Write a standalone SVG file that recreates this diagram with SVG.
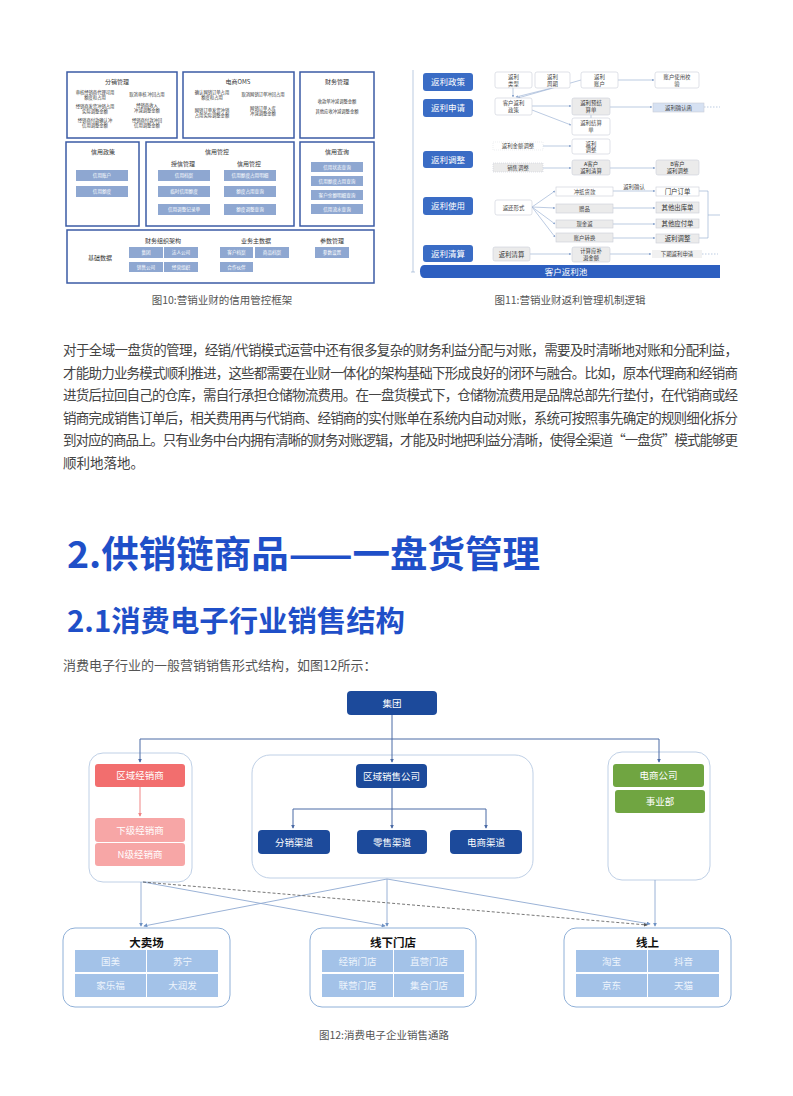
<svg xmlns="http://www.w3.org/2000/svg" width="793" height="1096" viewBox="0 0 793 1096">
<defs>
<style>
text{font-family:"Noto Sans CJK SC","Noto Sans",sans-serif}
.box10{fill:#fff;stroke:#3b5ba5;stroke-width:1.5}
.btn10{fill:#8ea7d1}
.bt{fill:#fff;font-size:4.6px;text-anchor:middle}
.tt10{font-size:6px;fill:#333;text-anchor:middle}
.it10{font-size:4.3px;fill:#333;text-anchor:middle}
.pill{fill:#3a6cc5}
.pt{fill:#fff;font-size:8.5px;text-anchor:middle}
.wb{fill:#fff;stroke:#c9ced8;stroke-width:0.6}
.gb{fill:#ebebeb;stroke:#c9ced8;stroke-width:0.6}
.lb{fill:#d6e1f2;stroke:#c9ced8;stroke-width:0.6}
.st{font-size:5.4px;fill:#444;text-anchor:middle}
.sb{font-size:6.4px;fill:#333;text-anchor:middle}
.s2{font-size:5.4px;fill:#333;text-anchor:middle}
.c11{stroke:#8fa8cf;stroke-width:0.6;fill:none}
.cap{font-size:10.5px;fill:#555;text-anchor:middle}
.para{font-size:13.5px;fill:#444}
.cont{fill:#fff;stroke:#bfd0e6;stroke-width:1}
.dk{fill:#1c4a9b}
.wt{fill:#fff;font-size:9.5px;text-anchor:middle}
.cell{fill:#a3c2e8}
.ct{fill:#eef4fc;font-size:9.5px;text-anchor:middle}
.bx{fill:#fff;stroke:#8fb0d8;stroke-width:1}
.bh{font-size:11.5px;font-weight:bold;fill:#111;text-anchor:middle}
.ctop{stroke:#4a6aa5;stroke-width:1;fill:none}
.cbot{stroke:#8ea9d1;stroke-width:0.9;fill:none}
</style>
<marker id="a11" viewBox="0 0 6 6" refX="5" refY="3" markerWidth="4" markerHeight="4" orient="auto"><path d="M0,0 L6,3 L0,6 z" fill="#8fa8cf"/></marker>
<marker id="atop" viewBox="0 0 6 6" refX="5" refY="3" markerWidth="4" markerHeight="4" orient="auto"><path d="M0,0 L6,3 L0,6 z" fill="#4a6aa5"/></marker>
<marker id="apink" viewBox="0 0 6 6" refX="5" refY="3" markerWidth="4" markerHeight="4" orient="auto"><path d="M0,0 L6,3 L0,6 z" fill="#f08585"/></marker>
<marker id="abot" viewBox="0 0 6 6" refX="5" refY="3" markerWidth="4.5" markerHeight="4.5" orient="auto"><path d="M0,0 L6,3 L0,6 z" fill="#6f92c4"/></marker>
<marker id="adash" viewBox="0 0 6 6" refX="5" refY="3" markerWidth="4.5" markerHeight="4.5" orient="auto"><path d="M0,0 L6,3 L0,6 z" fill="#555"/></marker>
</defs>
<rect width="793" height="1096" fill="#fff"/>

<!-- ===== Figure 10 ===== -->
<g id="fig10">
<g id="f10-fenxiao">
<rect class="box10" x="67" y="72" width="110" height="66"/>
<text class="tt10" x="117" y="84">分销管理</text>
<text class="it10" x="95" y="94">审核经销商代理可用</text><text class="it10" x="95" y="99">额度和占用</text>
<text class="it10" x="95" y="108">经销商发货冲销占用</text><text class="it10" x="95" y="113">实际调整金额</text>
<text class="it10" x="95" y="122">经销商付款确认冲</text><text class="it10" x="95" y="127">信用调整金额</text>
<text class="it10" x="147" y="96">取消审核 冲回占用</text>
<text class="it10" x="147" y="107">经销商收入</text><text class="it10" x="147" y="112">冲减调整金额</text>
<text class="it10" x="147" y="122">经销商付款冲回</text><text class="it10" x="147" y="127">信用调整金额</text>
</g>
<g id="f10-oms">
<rect class="box10" x="183" y="72" width="111" height="66"/>
<text class="tt10" x="238" y="84">电商OMS</text>
<text class="it10" x="212" y="94">确认网销订单占用</text><text class="it10" x="212" y="99">额度和占用</text>
<text class="it10" x="212" y="112">网销订单发货冲销</text><text class="it10" x="212" y="117">占用实际调整金额</text>
<text class="it10" x="263" y="96">取消网销订单冲回占用</text>
<text class="it10" x="263" y="110">网销订单入库</text><text class="it10" x="263" y="115">冲减调整金额</text>
</g>
<g id="f10-caiwu">
<rect class="box10" x="300" y="72" width="74" height="66"/>
<text class="tt10" x="337" y="84">财务管理</text>
<text class="it10" x="337" y="103">收款单冲减调整金额</text>
<text class="it10" x="337" y="113">其他应收冲减调整金额</text>
</g>
<g id="f10-zhengce">
<rect class="box10" x="66" y="142" width="73" height="84"/>
<text class="tt10" x="103" y="154">信用政策</text>
<rect class="btn10" x="76" y="170" width="52" height="11"/><text class="bt" x="102" y="177.3">信用账户</text>
<rect class="btn10" x="76" y="186" width="52" height="11"/><text class="bt" x="102" y="193.3">信用额度</text>
</g>
<g id="f10-guankong">
<rect class="box10" x="146" y="142" width="148" height="84"/>
<text class="tt10" x="217" y="154">信用管控</text>
<text class="tt10" x="183" y="166">授信管理</text>
<text class="tt10" x="249" y="166">信用管控</text>
<rect class="btn10" x="158" y="170" width="52" height="11"/><text class="bt" x="184" y="177.3">信用档案</text>
<rect class="btn10" x="158" y="186" width="52" height="11"/><text class="bt" x="184" y="193.3">临时信用额度</text>
<rect class="btn10" x="158" y="204" width="52" height="11"/><text class="bt" x="184" y="211.3">信用调整记录单</text>
<rect class="btn10" x="224" y="170" width="52" height="11"/><text class="bt" x="250" y="177.3">信用额度占用明细</text>
<rect class="btn10" x="224" y="186" width="52" height="11"/><text class="bt" x="250" y="193.3">额度占用查询</text>
<rect class="btn10" x="224" y="204" width="52" height="11"/><text class="bt" x="250" y="211.3">额度调整查询</text>
</g>
<g id="f10-chaxun">
<rect class="box10" x="300" y="142" width="74" height="84"/>
<text class="tt10" x="337" y="154">信用查询</text>
<rect class="btn10" x="311" y="162" width="52" height="10"/><text class="bt" x="337" y="168.8">信用状态查询</text>
<rect class="btn10" x="311" y="176" width="52" height="10"/><text class="bt" x="337" y="182.8">信用额度占用查询</text>
<rect class="btn10" x="311" y="190" width="52" height="10"/><text class="bt" x="337" y="196.8">客户余额明细查询</text>
<rect class="btn10" x="311" y="204" width="52" height="10"/><text class="bt" x="337" y="210.8">信用流水查询</text>
</g>
<g id="f10-jichu">
<rect class="box10" x="67" y="230" width="307" height="53"/>
<text class="tt10" x="100" y="260">基础数据</text>
<text class="tt10" x="163" y="243">财务组织架构</text>
<rect class="btn10" x="129" y="247" width="34" height="11"/><text class="bt" x="146" y="254.3">集团</text>
<rect class="btn10" x="164" y="247" width="34" height="11"/><text class="bt" x="181" y="254.3">法人公司</text>
<rect class="btn10" x="129" y="262" width="34" height="10"/><text class="bt" x="146" y="268.8">销售公司</text>
<rect class="btn10" x="164" y="262" width="34" height="10"/><text class="bt" x="181" y="268.8">经营组织</text>
<text class="tt10" x="256" y="243">业务主数据</text>
<rect class="btn10" x="220" y="247" width="33" height="11"/><text class="bt" x="236.5" y="254.3">客户档案</text>
<rect class="btn10" x="255" y="247" width="34" height="11"/><text class="bt" x="272" y="254.3">商品档案</text>
<rect class="btn10" x="220" y="262" width="33" height="10"/><text class="bt" x="236.5" y="268.8">合作伙伴</text>
<text class="tt10" x="332" y="243">参数管理</text>
<rect class="btn10" x="315" y="247" width="34" height="11"/><text class="bt" x="332" y="254.3">参数设置</text>
</g>
</g>
<text class="cap" x="222" y="304">图10:营销业财的信用管控框架</text>

<!-- ===== Figure 11 ===== -->
<g id="fig11">
<g id="f11-connectors">
<path class="c11" d="M413,70 V272"/>
<path class="c11" d="M411,272 H415"/>
<path class="c11" d="M513,88 V97" marker-end="url(#a11)"/>
<path class="c11" d="M552,88 L516,97" marker-end="url(#a11)"/>
<path class="c11" d="M581,80 L518,98" marker-end="url(#a11)"/>
<path class="c11" d="M618,80 H654" marker-end="url(#a11)"/>
<path class="c11" d="M532,106 H571" marker-end="url(#a11)"/>
<path class="c11" d="M532,110 L571,125" marker-end="url(#a11)"/>
<path class="c11" d="M610,107 H652" marker-end="url(#a11)"/>
<path class="c11" d="M704,107 H720" stroke-dasharray="1.5,1.5"/>
<path class="c11" d="M591,115 V118"/>
<path class="c11" d="M543,146 H571" marker-end="url(#a11)"/>
<path class="c11" d="M543,168 H571" marker-end="url(#a11)"/>
<path class="c11" d="M610,168 H655" marker-end="url(#a11)"/>
<path class="c11" d="M532,207 L555,191" marker-end="url(#a11)"/>
<path class="c11" d="M532,207 L555,208" marker-end="url(#a11)"/>
<path class="c11" d="M532,207 L555,224" marker-end="url(#a11)"/>
<path class="c11" d="M532,207 L555,237" marker-end="url(#a11)"/>
<path class="c11" d="M613,191 H655" marker-end="url(#a11)"/>
<path class="c11" d="M613,208 H655" marker-end="url(#a11)"/>
<path class="c11" d="M613,224 H655" marker-end="url(#a11)"/>
<path class="c11" d="M613,238 H655" marker-end="url(#a11)"/>
<path class="c11" d="M699,191 H708 V238 H699 M708,215 H720"/>
<path class="c11" d="M530,254 H571" marker-end="url(#a11)"/>
<path class="c11" d="M610,254 H651" marker-end="url(#a11)"/>
<path class="c11" d="M702,254 H718" stroke-dasharray="1.5,1.5"/>
</g>
<g id="f11-pills">
<rect class="pill" x="423" y="73" width="50" height="18" rx="3"/><text class="pt" x="448" y="85">返利政策</text>
<rect class="pill" x="423" y="99" width="50" height="18" rx="3"/><text class="pt" x="448" y="111">返利申请</text>
<rect class="pill" x="423" y="151" width="50" height="17" rx="3"/><text class="pt" x="448" y="162.5">返利调整</text>
<rect class="pill" x="423" y="197" width="50" height="18" rx="3"/><text class="pt" x="448" y="209">返利使用</text>
<rect class="pill" x="423" y="245" width="50" height="17" rx="3"/><text class="pt" x="448" y="256.5">返利清算</text>
</g>
<g id="f11-pool">
<path d="M424,265 H720 V278 H424 Q420,278 420,271.5 Q420,265 424,265 z" fill="#2d5fc0"/>
<text class="pt" x="566" y="275">客户返利池</text>
</g>
<g id="f11-boxes">
<rect class="wb" x="495" y="72" width="37" height="16" rx="2"/><text class="st" x="513.5" y="79">返利</text><text class="st" x="513.5" y="85.5">类型</text>
<rect class="wb" x="535" y="72" width="35" height="16" rx="2"/><text class="st" x="552.5" y="79">返利</text><text class="st" x="552.5" y="85.5">周期</text>
<rect class="wb" x="581" y="72" width="37" height="16" rx="2"/><text class="st" x="599.5" y="79">返利</text><text class="st" x="599.5" y="85.5">账户</text>
<rect class="wb" x="655" y="72" width="44" height="16" rx="2"/><text class="st" x="677" y="79">账户使用校</text><text class="st" x="677" y="85.5">验</text>
<rect class="wb" x="495" y="98" width="37" height="17" rx="2"/><text class="st" x="513.5" y="105">客户返利</text><text class="st" x="513.5" y="111.5">政策</text>
<rect class="gb" x="572" y="98" width="38" height="17" rx="2"/><text class="s2" x="591" y="105.2">返利预结</text><text class="s2" x="591" y="112">算单</text>
<rect class="lb" x="653" y="103" width="51" height="9"/><text class="st" x="678.5" y="109.5">返利确认函</text>
<rect class="wb" x="572" y="118" width="38" height="17" rx="2"/><text class="st" x="591" y="125">返利结算</text><text class="st" x="591" y="131.5">单</text>
<rect class="wb" x="572" y="139" width="38" height="15" rx="2"/><text class="st" x="591" y="145.5">返利</text><text class="st" x="591" y="152">调整</text>
<rect x="493" y="142" width="50" height="8" fill="#fff" stroke="#d9dde3" stroke-width="0.5" stroke-dasharray="1,1"/><text class="st" x="518" y="148">返利金额调整</text>
<rect class="gb" x="493" y="163" width="50" height="9" stroke-dasharray="1,1"/><text class="st" x="518" y="169.5">销售调整</text>
<rect class="gb" x="572" y="160" width="38" height="15" rx="2"/><text class="s2" x="591" y="166.2">A客户</text><text class="s2" x="591" y="172.8">返利清算</text>
<rect class="gb" x="656" y="160" width="43" height="15" rx="2"/><text class="s2" x="677.5" y="166.2">B客户</text><text class="s2" x="677.5" y="172.8">返利调整</text>
<rect class="wb" x="495" y="200" width="37" height="15" rx="2"/><text class="st" x="513.5" y="209.5">返还形式</text>
<rect class="wb" x="556" y="187" width="57" height="9"/><text class="st" x="584.5" y="193.5">冲抵货款</text>
<text class="st" x="634" y="189" font-size="4.5">返利确认</text>
<rect class="wb" x="656" y="187" width="43" height="9"/><text class="sb" x="677.5" y="194">门户订单</text>
<rect class="gb" x="556" y="204" width="57" height="9"/><text class="st" x="584.5" y="210.5">赠品</text>
<rect class="gb" x="656" y="202" width="43" height="11"/><text class="sb" x="677.5" y="210">其他出库单</text>
<rect class="gb" x="556" y="220" width="57" height="8"/><text class="st" x="584.5" y="226">现金返</text>
<rect class="gb" x="656" y="219" width="43" height="9"/><text class="sb" x="677.5" y="226">其他应付单</text>
<rect class="gb" x="556" y="233" width="57" height="9"/><text class="st" x="584.5" y="239.5">账户转换</text>
<rect class="gb" x="656" y="234" width="43" height="9"/><text class="sb" x="677.5" y="241">返利调整</text>
<rect class="gb" x="493" y="247" width="37" height="14" rx="2"/><text class="sb" x="511.5" y="256.5">返利清算</text>
<rect class="gb" x="572" y="247" width="38" height="15" rx="2"/><text class="s2" x="591" y="253.2">计算应补</text><text class="s2" x="591" y="259.8">退金额</text>
<rect x="652" y="250" width="50" height="8" fill="#f1f1f1"/><text class="st" x="677" y="256">下期返利申请</text>
</g>
</g>
<text class="cap" x="570" y="304">图11:营销业财返利管理机制逻辑</text>

<!-- ===== Paragraph ===== -->
<g id="paragraph">
<text class="para" x="63" y="355" textLength="675" lengthAdjust="spacing">对于全域一盘货的管理，经销/代销模式运营中还有很多复杂的财务利益分配与对账，需要及时清晰地对账和分配利益，</text>
<text class="para" x="63" y="378" textLength="675" lengthAdjust="spacing">才能助力业务模式顺利推进，这些都需要在业财一体化的架构基础下形成良好的闭环与融合。比如，原本代理商和经销商</text>
<text class="para" x="63" y="400" textLength="675" lengthAdjust="spacing">进货后拉回自己的仓库，需自行承担仓储物流费用。在一盘货模式下，仓储物流费用是品牌总部先行垫付，在代销商或经</text>
<text class="para" x="63" y="423" textLength="675" lengthAdjust="spacing">销商完成销售订单后，相关费用再与代销商、经销商的实付账单在系统内自动对账，系统可按照事先确定的规则细化拆分</text>
<text class="para" x="63" y="445" textLength="675" lengthAdjust="spacing">到对应的商品上。只有业务中台内拥有清晰的财务对账逻辑，才能及时地把利益分清晰，使得全渠道“一盘货”模式能够更</text>
<text class="para" x="63" y="468">顺利地落地。</text>
</g>

<!-- ===== Headings ===== -->
<text x="67" y="568" font-size="37" font-weight="bold" fill="#1f4fc8" textLength="473" lengthAdjust="spacingAndGlyphs">2.供销链商品——一盘货管理</text>
<text x="67" y="632" font-size="29" font-weight="bold" fill="#1f4fc8" textLength="338" lengthAdjust="spacingAndGlyphs">2.1消费电子行业销售结构</text>
<text x="63" y="670" font-size="13" fill="#555">消费电子行业的一般营销销售形式结构，如图12所示：</text>

<!-- ===== Figure 12 ===== -->
<g id="fig12">
<g id="containers">
<rect class="cont" x="89" y="753" width="103" height="129" rx="14"/>
<rect class="cont" x="252" y="755" width="281" height="123" rx="18"/>
<rect class="cont" x="608" y="752" width="102" height="128" rx="14"/>
</g>
<g id="connectors">
<path class="ctop" d="M392,715 V762" marker-end="url(#atop)"/>
<path class="ctop" d="M392,739 H140 V762" marker-end="url(#atop)"/>
<path class="ctop" d="M392,739 H659 V762" marker-end="url(#atop)"/>
<path d="M140,787 V816" stroke="#f08585" stroke-width="1" fill="none" marker-end="url(#apink)"/>
<path class="ctop" d="M392,788 V828" marker-end="url(#atop)"/>
<path class="ctop" d="M392,809 H293 V828" marker-end="url(#atop)"/>
<path class="ctop" d="M392,809 H486 V828" marker-end="url(#atop)"/>
<path class="cbot" d="M141,882 V926" marker-end="url(#abot)"/>
<path class="cbot" d="M387,879 L144,926" marker-end="url(#abot)"/>
<path class="cbot" d="M143,882 L385,926" marker-end="url(#abot)"/>
<path class="cbot" d="M387,879 V926" marker-end="url(#abot)"/>
<path class="cbot" d="M387,879 L650,924" marker-end="url(#abot)"/>
<path d="M143,882 L647,925" stroke="#555" stroke-width="0.8" stroke-dasharray="3,2" fill="none" marker-end="url(#adash)"/>
<path class="cbot" d="M655,880 V926" marker-end="url(#abot)"/>
</g>
<g id="n-jituan"><rect class="dk" x="347" y="691" width="90" height="24" rx="4"/><text class="wt" x="392" y="706.5">集团</text></g>
<g id="n-quyujxs"><rect x="95" y="764" width="90" height="23" rx="3" fill="#f26e6e"/><text class="wt" x="140" y="779">区域经销商</text></g>
<g id="n-xiaji"><rect x="95" y="818" width="90" height="24" rx="3" fill="#f7a6a6"/><text class="wt" x="140" y="833.5">下级经销商</text></g>
<g id="n-nji"><rect x="95" y="843" width="90" height="23" rx="3" fill="#f7a6a6"/><text class="wt" x="140" y="858">N级经销商</text></g>
<g id="n-quyuxs"><rect class="dk" x="356" y="764" width="71" height="24" rx="4"/><text class="wt" x="391.5" y="779.5">区域销售公司</text></g>
<g id="n-fenxiao"><rect class="dk" x="258" y="830" width="72" height="24" rx="4"/><text class="wt" x="294" y="845.5">分销渠道</text></g>
<g id="n-lingshou"><rect class="dk" x="357" y="830" width="70" height="24" rx="4"/><text class="wt" x="392" y="845.5">零售渠道</text></g>
<g id="n-dianshangqd"><rect class="dk" x="450" y="830" width="72" height="24" rx="4"/><text class="wt" x="486" y="845.5">电商渠道</text></g>
<g id="n-dsgs"><rect x="613" y="764" width="91" height="23" rx="3" fill="#70a541"/><text class="wt" x="658.5" y="779">电商公司</text></g>
<g id="n-syb"><rect x="615" y="790" width="90" height="23" rx="3" fill="#70a541"/><text class="wt" x="660" y="805">事业部</text></g>
<g id="n-dmc">
<rect class="bx" x="63" y="928" width="167" height="79" rx="12"/>
<text class="bh" x="146.5" y="947">大卖场</text>
<rect class="cell" x="75" y="950" width="71" height="22"/><text class="ct" x="110.5" y="964.5">国美</text>
<rect class="cell" x="147" y="950" width="71" height="22"/><text class="ct" x="182.5" y="964.5">苏宁</text>
<rect class="cell" x="75" y="974" width="71" height="23"/><text class="ct" x="110.5" y="989">家乐福</text>
<rect class="cell" x="147" y="974" width="71" height="23"/><text class="ct" x="182.5" y="989">大润发</text>
</g>
<g id="n-xxmd">
<rect class="bx" x="310" y="928" width="166" height="79" rx="12"/>
<text class="bh" x="393" y="947">线下门店</text>
<rect class="cell" x="322" y="950" width="71" height="22"/><text class="ct" x="357.5" y="964.5">经销门店</text>
<rect class="cell" x="394" y="950" width="70" height="22"/><text class="ct" x="429" y="964.5">直营门店</text>
<rect class="cell" x="322" y="974" width="71" height="23"/><text class="ct" x="357.5" y="989">联营门店</text>
<rect class="cell" x="394" y="974" width="70" height="23"/><text class="ct" x="429" y="989">集合门店</text>
</g>
<g id="n-xs">
<rect class="bx" x="564" y="928" width="167" height="79" rx="12"/>
<text class="bh" x="647.5" y="947">线上</text>
<rect class="cell" x="576" y="950" width="71" height="22"/><text class="ct" x="611.5" y="964.5">淘宝</text>
<rect class="cell" x="648" y="950" width="71" height="22"/><text class="ct" x="683.5" y="964.5">抖音</text>
<rect class="cell" x="576" y="974" width="71" height="23"/><text class="ct" x="611.5" y="989">京东</text>
<rect class="cell" x="648" y="974" width="71" height="23"/><text class="ct" x="683.5" y="989">天猫</text>
</g>
</g>
<text class="cap" x="384" y="1039">图12:消费电子企业销售通路</text>
</svg>
